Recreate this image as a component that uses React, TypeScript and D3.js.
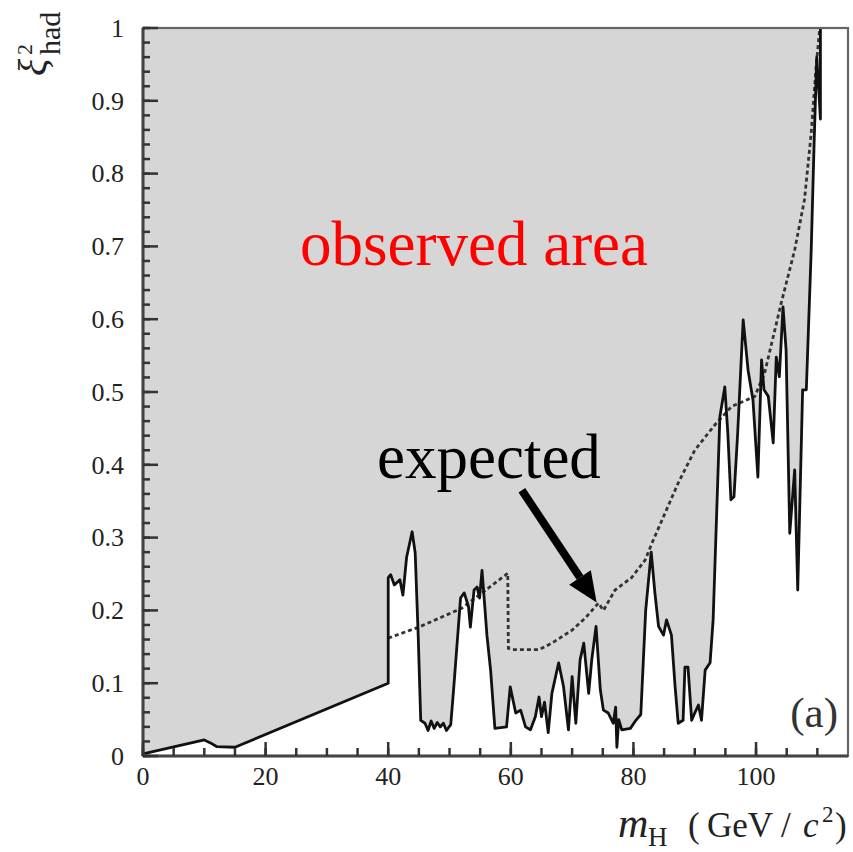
import React from 'react';
import * as d3 from 'd3';

// observed limit (solid line)
const obsMass = [0, 10, 11, 12, 15, 40, 40, 40.4, 41, 41.9, 42.4, 43, 43.9, 44.4, 44.9, 45.3, 46, 46.5, 47, 47.5, 48, 48.5, 49, 49.5, 50.2, 50.7, 51.8, 52.4, 53.1, 53.4, 54, 54.5, 54.9, 55.3, 55.8, 56.1, 56.7, 57.4, 59.3, 59.9, 60.8, 61.6, 62.4, 63.2, 64, 64.6, 65, 65.5, 66.1, 66.7, 67.8, 68.6, 69.4, 70, 70.6, 71.3, 71.9, 72.7, 73.2, 73.9, 74.6, 75.1, 75.9, 76.7, 77.1, 77.3, 77.6, 78.1, 79.5, 80.4, 81.2, 82, 82.9, 83.5, 84.1, 84.9, 85.4, 86.2, 86.8, 87.3, 88.1, 88.4, 88.9, 89.5, 90, 90.6, 91.1, 91.7, 92.5, 93, 94.1, 94.9, 95.4, 95.9, 96.4, 97, 97.9, 98.7, 99.5, 100.3, 100.9, 101.3, 102, 102.8, 103.3, 103.8, 104.4, 104.9, 105.5, 106.3, 106.8, 107.6, 108.2, 109, 109.5, 109.9, 110.2, 110.5, 110.5];
const obsXi = [0.003, 0.022, 0.018, 0.013, 0.012, 0.1, 0.245, 0.249, 0.235, 0.242, 0.221, 0.273, 0.308, 0.279, 0.163, 0.049, 0.045, 0.035, 0.048, 0.038, 0.046, 0.04, 0.045, 0.035, 0.043, 0.095, 0.217, 0.224, 0.205, 0.177, 0.228, 0.232, 0.217, 0.255, 0.2, 0.166, 0.118, 0.038, 0.04, 0.095, 0.059, 0.063, 0.04, 0.036, 0.054, 0.081, 0.054, 0.074, 0.032, 0.086, 0.128, 0.095, 0.036, 0.109, 0.045, 0.132, 0.155, 0.086, 0.132, 0.178, 0.091, 0.063, 0.059, 0.045, 0.067, 0.012, 0.05, 0.036, 0.038, 0.049, 0.057, 0.2, 0.28, 0.224, 0.178, 0.166, 0.187, 0.166, 0.095, 0.045, 0.049, 0.122, 0.122, 0.049, 0.059, 0.07, 0.049, 0.118, 0.128, 0.187, 0.466, 0.507, 0.443, 0.352, 0.356, 0.443, 0.599, 0.53, 0.489, 0.383, 0.544, 0.503, 0.494, 0.43, 0.548, 0.521, 0.617, 0.558, 0.306, 0.393, 0.228, 0.503, 0.503, 0.695, 0.85, 0.96, 0.92, 0.875, 1.0];

// expected limit (dotted line)
const expMass = [40, 45, 52, 59.5, 59.6, 60.2, 64.6, 66.7, 70, 72.2, 74.3, 75.1, 77, 79.7, 81.9, 83, 87.3, 90, 93.3, 96, 99.8, 101.4, 104.1, 106.3, 107.9, 109, 109.8, 110.4];
const expXi = [0.162, 0.177, 0.203, 0.251, 0.148, 0.146, 0.146, 0.155, 0.173, 0.19, 0.21, 0.2, 0.228, 0.245, 0.269, 0.292, 0.375, 0.42, 0.455, 0.48, 0.494, 0.526, 0.622, 0.695, 0.764, 0.856, 0.947, 1.0];

const xMajorTicks = [0, 20, 40, 60, 80, 100];
const xMinorTicks = d3.range(0, 115, 5);
const yMajorTicks = [0, 0.1, 0.2, 0.3, 0.4, 0.5, 0.6, 0.7, 0.8, 0.9, 1];
const yMinorTicks = d3.range(0, 1.001, 0.02);

const arrowTail = { m: 61.8, xi: 0.365 };
const arrowTip = { m: 74.0, xi: 0.211 };

type Pt = { m: number; xi: number };

const font = { fontFamily: '"Liberation Serif"' };

const width = 853;
const height = 852;
const left = 143, right = 848, top = 28, bottom = 756;

export default function App() {
  const x = d3.scaleLinear().domain([0, 115]).range([left, right]);
  const y = d3.scaleLinear().domain([0, 1]).range([bottom, top]);

  const obs: Pt[] = obsMass.map((m, i) => ({ m, xi: obsXi[i] }));
  const exp: Pt[] = expMass.map((m, i) => ({ m, xi: expXi[i] }));

  // grey excluded region above the observed curve
  const area = d3.area<Pt>().x(d => x(d.m)).y0(y(1)).y1(d => y(d.xi));
  const line = d3.line<Pt>().x(d => x(d.m)).y(d => y(d.xi));

  // arrow geometry
  const tx = x(arrowTail.m), ty = y(arrowTail.xi);
  const hx = x(arrowTip.m), hy = y(arrowTip.xi);
  const ang = Math.atan2(hy - ty, hx - tx);
  const headLen = 30, headHalf = 13;
  const bx = hx - headLen * Math.cos(ang), by = hy - headLen * Math.sin(ang);
  const nx = -Math.sin(ang), ny = Math.cos(ang);
  const head = [
    [hx, hy],
    [bx + nx * headHalf, by + ny * headHalf],
    [bx - nx * headHalf, by - ny * headHalf],
  ].map(p => p.join(',')).join(' ');

  const tickColor = '#333';

  return (
    <svg width={width} height={height} style={{ position: 'absolute', left: 0, top: 0 }}>
      <rect width={width} height={height} fill="#fff" />
      <path d={area(obs) || ''} fill="#d6d6d6" />
      <path d={line(exp) || ''} fill="none" stroke="#333" strokeWidth={2.8} strokeDasharray="4,3" />
      <path d={line(obs) || ''} fill="none" stroke="#111" strokeWidth={2.8} strokeLinejoin="round" />

      <rect x={left} y={top} width={right - left} height={bottom - top} fill="none" stroke="#666" strokeWidth={2.2} />
      <line x1={left} x2={left} y1={top} y2={bottom} stroke="#444" strokeWidth={3} />
      <line x1={left} x2={right} y1={bottom} y2={bottom} stroke="#444" strokeWidth={3} />

      {yMinorTicks.map(d => (
        <line key={'ym' + d} x1={left} x2={left + 7} y1={y(d)} y2={y(d)} stroke={tickColor} strokeWidth={2.5} />
      ))}
      {yMajorTicks.map(d => (
        <line key={'yM' + d} x1={left} x2={left + 15} y1={y(d)} y2={y(d)} stroke={tickColor} strokeWidth={2.5} />
      ))}
      {xMinorTicks.map(d => (
        <line key={'xm' + d} x1={x(d)} x2={x(d)} y1={bottom} y2={bottom - 8} stroke={tickColor} strokeWidth={2.5} />
      ))}
      {xMajorTicks.map(d => (
        <line key={'xM' + d} x1={x(d)} x2={x(d)} y1={bottom} y2={bottom - 14} stroke={tickColor} strokeWidth={2.5} />
      ))}

      {yMajorTicks.map(d => (
        <text key={'yl' + d} x={124} y={y(d)} dy="0.34em" textAnchor="end" fontSize={26} fill="#222" style={font}>
          {d3.format('~g')(d)}
        </text>
      ))}
      {xMajorTicks.map(d => (
        <text key={'xl' + d} x={x(d)} y={785} textAnchor="middle" fontSize={26} fill="#222" style={font}>
          {d}
        </text>
      ))}

      <text y={837} fontSize={35} fill="#222" style={font}>
        <tspan x={618} fontStyle="italic" fontSize={42}>m</tspan>
        <tspan x={648} fontSize={27} dy={9}>H</tspan>
        <tspan x={688} dy={-9}>(</tspan>
        <tspan x={707}>GeV</tspan>
        <tspan x={781}>/</tspan>
        <tspan x={803} fontStyle="italic">c</tspan>
        <tspan x={822} fontSize={23} dy={-15}>2</tspan>
        <tspan x={835} dy={15}>)</tspan>
      </text>

      <g transform="translate(46,76) rotate(-90)">
        <text x={0} y={0} fontStyle="italic" fontSize={40} fill="#222" style={font}>ξ</text>
        <text x={21} y={-14} fontSize={22} fill="#222" style={font}>2</text>
        <text x={21} y={14} fontSize={30} fill="#222" style={font}>had</text>
      </g>

      <text x={300} y={265} fontSize={63} fill="#ff0000" style={font}>observed area</text>
      <text x={377} y={478} fontSize={63} fill="#000" style={font}>expected</text>
      <text x={838} y={727} textAnchor="end" fontSize={43} fill="#333" style={font}>(a)</text>

      <line x1={tx} y1={ty} x2={bx} y2={by} stroke="#000" strokeWidth={8} />
      <polygon points={head} fill="#000" />
    </svg>
  );
}
